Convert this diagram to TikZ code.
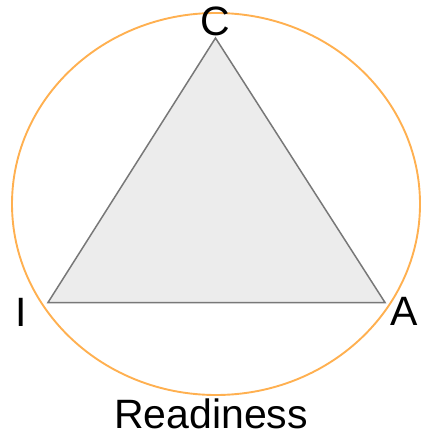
\documentclass[tikz,border=0pt]{standalone}
\usepackage{fontspec}
\setmainfont{Liberation Sans}
\definecolor{ringorange}{RGB}{255,176,80}
\definecolor{trifill}{RGB}{236,236,236}
\definecolor{triedge}{RGB}{120,120,120}
\begin{document}
\begin{tikzpicture}[x=1pt,y=-1pt,
  lbl/.style={font=\fontsize{41}{48}\selectfont, inner sep=0pt, anchor=base, text=black}]
\useasboundingbox (0,0) rectangle (421,438);
\draw[ringorange, line width=1.9pt] (216,204) ellipse [x radius=204, y radius=191];
\coordinate (c) at (215.5,38);
\coordinate (i) at (48,302.5);
\coordinate (a) at (385,302.5);
\draw[triedge, fill=trifill, line width=1.5pt, line join=miter] (c) -- (i) -- (a) -- cycle;
\node[lbl] (lc) at (215.5,36) {C};
\node[lbl] (li) at (21,326) {I};
\node[lbl] (la) at (404,325) {A};
\node[lbl] (lr) at (211,428) {Readiness};
\end{tikzpicture}
\end{document}
